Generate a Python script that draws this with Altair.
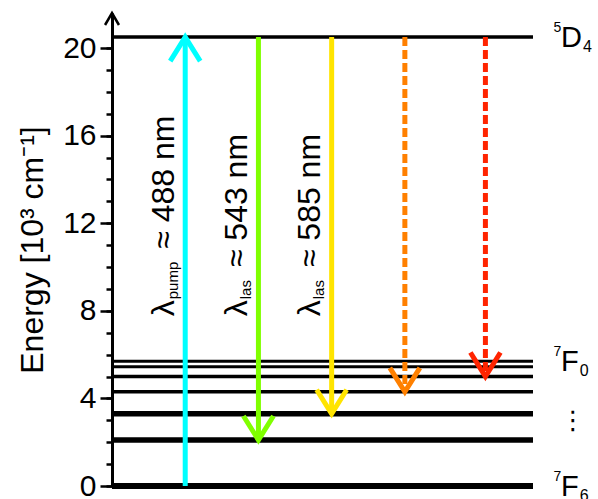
import altair as alt
import pandas as pd

FONT = "Liberation Sans"
Y_MAX = 21.6   # top of the energy axis (arrow tip), 10^3 cm^-1
X_MAX = 5.75   # right end of the level lines (arbitrary column units)

# Tb3+ energy levels, 10^3 cm^-1
level_names = ["5D4", "7F0", "7F1", "7F2", "7F3", "7F4", "7F5", "7F6"]
level_energy = [20.5, 5.7, 5.45, 5.0, 4.3, 3.3, 2.1, 0.0]

# optical transitions: drawing column, start level, end level
trans_names = ["pump 488", "las 543", "las 585", "5D4-7F3", "5D4-7F2"]
trans_col = [1, 2, 3, 4, 5.1]
trans_start = [0.0, 20.5, 20.5, 20.5, 20.5]
trans_end = [20.5, 2.1, 3.3, 4.3, 5.0]

# wavelength annotations on the first three transitions
label_col = [1, 2, 3]
label_sub = ["pump", "las", "las"]
label_nm = [488, 543, 585]
LABEL_Y = 7.75

# term symbols at the right-hand side
term_sup = ["5", "7", "7"]
term_letter = ["D", "F", "F"]
term_sub = ["4", "0", "6"]
term_energy = [20.5, 5.7, 0.0]

# axis ticks
major_ticks = [0, 4, 8, 12, 16, 20]
minor_ticks = list(range(0, 21))

# styling
level_stroke = {"5D4": 3.5, "7F0": 3, "7F1": 3, "7F2": 3.5, "7F3": 3.5,
                "7F4": 5.5, "7F5": 5.5, "7F6": 6}
trans_color = ["#00ffff", "#80ff00", "#ffe400", "#ff8000", "#ff2400"]
trans_dashed = [False, False, False, True, True]

# Arial / Liberation Sans advance widths (em)
ADV = {"p": 0.556, "u": 0.556, "m": 0.833, "l": 0.222, "a": 0.556, "s": 0.5,
       "D": 0.722, "F": 0.611}


def text_width(s, size):
    return sum(ADV.get(c, 0.556) for c in s) * size


y_scale = alt.Scale(domain=[0, Y_MAX], nice=False, zero=False)
x_scale = alt.Scale(domain=[0, X_MAX], nice=False, zero=False)

df_levels = pd.DataFrame({
    "name": level_names,
    "E": level_energy,
    "w": [level_stroke[n] for n in level_names],
})
df_tr = pd.DataFrame({
    "name": trans_names,
    "col": trans_col,
    "start": trans_start,
    "end": trans_end,
    "color": trans_color,
    "dashed": trans_dashed,
})
df_tr["up"] = df_tr["end"] > df_tr["start"]

major_axis = alt.Axis(
    orient="left",
    values=major_ticks,
    tickSize=12,
    tickWidth=2.5,
    tickColor="black",
    domainWidth=3,
    domainColor="black",
    labelFont=FONT,
    labelFontSize=30,
    labelColor="black",
    labelPadding=4,
    title="Energy [10³ cm⁻¹]",
    titleFont=FONT,
    titleFontSize=32,
    titleFontWeight="normal",
    titleColor="black",
    titlePadding=13,
    grid=False,
)
minor_axis = alt.Axis(
    orient="left",
    values=minor_ticks,
    tickSize=6,
    tickWidth=2.5,
    tickColor="black",
    domain=False,
    labels=False,
    title=None,
    grid=False,
)

X = lambda f: alt.X(f, scale=x_scale, axis=None)
Y = lambda f: alt.Y(f, scale=y_scale, axis=None)

# horizontal energy levels (full plot width), carrying the energy axis
levels = alt.Chart(df_levels).mark_rule(color="black").encode(
    y=alt.Y("E:Q", scale=y_scale, axis=major_axis),
    strokeWidth=alt.StrokeWidth("w:Q", scale=None),
)
# invisible layer that carries the minor ticks
minor = alt.Chart(df_levels).mark_point(opacity=0).encode(
    y=alt.Y("E:Q", scale=y_scale, axis=minor_axis),
)

# arrow at the top of the energy axis
AXIS_HEAD = "M-0.58,1L0,0L0.58,1"
axis_head = alt.Chart(pd.DataFrame({"x": [0.0], "y": [Y_MAX]})).mark_point(
    shape=AXIS_HEAD, size=576, filled=False, strokeWidth=2.5, color="black",
    opacity=1, strokeJoin="miter",
).encode(x=X("x:Q"), y=Y("y:Q"))

# transition shafts
solid = alt.Chart(df_tr[~df_tr["dashed"]]).mark_rule(strokeWidth=5).encode(
    x=X("col:Q"), y=Y("start:Q"), y2="end:Q",
    color=alt.Color("color:N", scale=None),
)
dashed = alt.Chart(df_tr[df_tr["dashed"]]).mark_rule(
    strokeWidth=5, strokeDash=[9, 4]
).encode(
    x=X("col:Q"), y=Y("start:Q"), y2="end:Q",
    color=alt.Color("color:N", scale=None),
)

# chevron arrowheads, tip at the end level
UP_HEAD = "M-0.625,1L0,0L0.625,1"
DOWN_HEAD = "M-0.625,-1L0,0L0.625,-1"
head_kw = dict(size=2304, filled=False, strokeWidth=5, opacity=1, strokeJoin="miter")
heads_up = alt.Chart(df_tr[df_tr["up"]]).mark_point(shape=UP_HEAD, **head_kw).encode(
    x=X("col:Q"), y=Y("end:Q"), color=alt.Color("color:N", scale=None),
)
heads_down = alt.Chart(df_tr[~df_tr["up"]]).mark_point(shape=DOWN_HEAD, **head_kw).encode(
    x=X("col:Q"), y=Y("end:Q"), color=alt.Color("color:N", scale=None),
)

# rotated wavelength labels: lambda, subscript, "≈ ... nm"
MAIN = 32
SUB = 15
BASE_DY = -11.5
LAM_W = 17.0
df_lab = pd.DataFrame({
    "col": label_col,
    "y": [LABEL_Y] * len(label_col),
    "sub": label_sub,
    "rest": [f"≈ {n} nm" for n in label_nm],
})
txt = dict(angle=270, align="left", baseline="alphabetic", font=FONT, color="black")
label_layers = [
    alt.Chart(df_lab).mark_text(text="λ", fontSize=MAIN, dy=BASE_DY, **txt).encode(
        x=X("col:Q"), y=Y("y:Q")),
    alt.Chart(df_lab).mark_text(fontSize=SUB, dx=LAM_W, dy=BASE_DY + 4, **txt).encode(
        x=X("col:Q"), y=Y("y:Q"), text="sub:N"),
]
for i in range(len(df_lab)):
    row = df_lab.iloc[[i]]
    dx = LAM_W + text_width(label_sub[i], SUB) + 13
    label_layers.append(
        alt.Chart(row).mark_text(fontSize=MAIN, dx=dx, dy=BASE_DY, **txt).encode(
            x=X("col:Q"), y=Y("y:Q"), text="rest:N")
    )

# term symbols at the right end of the levels
TERM = 29
TSUP = 14
TSUB = 16
df_term = pd.DataFrame({
    "x": [X_MAX] * len(term_energy),
    "E": term_energy,
    "sup": term_sup,
    "letter": term_letter,
    "sub": term_sub,
})
ttxt = dict(align="left", baseline="alphabetic", font=FONT, color="black")
term_layers = [
    alt.Chart(df_term).mark_text(fontSize=TSUP, dx=20.5, dy=-5, **ttxt).encode(
        x=X("x:Q"), y=Y("E:Q"), text="sup:N"),
    alt.Chart(df_term).mark_text(fontSize=TERM, dx=28, dy=10, **ttxt).encode(
        x=X("x:Q"), y=Y("E:Q"), text="letter:N"),
]
for i in range(len(df_term)):
    row = df_term.iloc[[i]]
    dx = 28 + text_width(term_letter[i], TERM) + 1
    term_layers.append(
        alt.Chart(row).mark_text(fontSize=TSUB, dx=dx, dy=14.5, **ttxt).encode(
            x=X("x:Q"), y=Y("E:Q"), text="sub:N")
    )

# vertical ellipsis between the 7F terms
dots = alt.Chart(pd.DataFrame({"x": [X_MAX], "E": [2.95]})).mark_text(
    text="⋮", fontSize=26, font="DejaVu Sans", align="center", baseline="middle",
    dx=40, color="black",
).encode(x=X("x:Q"), y=Y("E:Q"))

chart = alt.layer(
    levels, minor, solid, dashed, heads_up, heads_down, axis_head,
    *label_layers, *term_layers, dots,
).resolve_axis(y="independent").properties(
    width=421,
    height=473,
    autosize=alt.AutoSizeParams(type="none"),
    padding={"left": 112, "top": 13, "right": 65, "bottom": 13},
    background="white",
).configure_view(stroke=None)

chart.save("out.html", embed_options={"renderer": "svg", "actions": False})
